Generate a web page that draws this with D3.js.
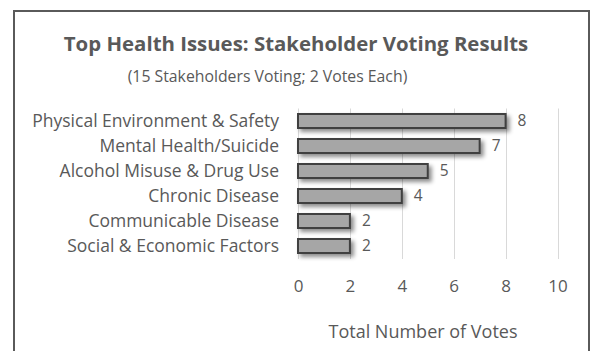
<!DOCTYPE html>
<html>
<head>
<meta charset="utf-8">
<script src="https://cdn.jsdelivr.net/npm/d3@7/dist/d3.min.js"></script>
<style>
  html, body { margin: 0; padding: 0; background: #fff; }
  svg { display: block; font-family: "Open Sans", sans-serif; }
</style>
</head>
<body>
<svg id="chart" width="592" height="351"></svg>
<script>
// Stakeholder votes per health issue
const categories = [
  "Physical Environment & Safety",
  "Mental Health/Suicide",
  "Alcohol Misuse & Drug Use",
  "Chronic Disease",
  "Communicable Disease",
  "Social & Economic Factors"
];
const votes = [8, 7, 5, 4, 2, 2];
const xTicks = [0, 2, 4, 6, 8, 10];

const titleText = "Top Health Issues: Stakeholder Voting Results";
const subtitleText = "(15 Stakeholders Voting; 2 Votes Each)";
const xAxisTitle = "Total Number of Votes";

const svg = d3.select("#chart");
const textColor = "#595959";
const font = "'Open Sans', sans-serif";

// drop shadow for the bars
const defs = svg.append("defs");
const f = defs.append("filter").attr("id", "barShadow")
  .attr("x", "-10%").attr("y", "-30%").attr("width", "130%").attr("height", "190%");
f.append("feDropShadow")
  .attr("dx", 3).attr("dy", 3).attr("stdDeviation", 2)
  .attr("flood-color", "#000").attr("flood-opacity", 0.45);

// outer frame
svg.append("rect")
  .attr("x", 14).attr("y", 11)
  .attr("width", 575).attr("height", 360)
  .attr("fill", "none")
  .attr("stroke", "#5a5a5a")
  .attr("stroke-width", 2);

// titles
svg.append("text")
  .attr("x", 296).attr("y", 51)
  .attr("text-anchor", "middle")
  .attr("font-size", 20.4).attr("font-weight", "bold")
  .attr("fill", textColor)
  .text(titleText);

svg.append("text")
  .attr("x", 267.5).attr("y", 82)
  .attr("text-anchor", "middle")
  .attr("font-size", 15.8)
  .attr("fill", textColor)
  .text(subtitleText);

const x = d3.scaleLinear().domain([0, 10]).range([298, 557.5]);
const y = d3.scaleBand().domain(categories).range([108.5, 258.5]).paddingInner(0.44).paddingOuter(0.22);

// vertical gridlines
svg.append("g")
  .selectAll("line")
  .data(xTicks)
  .join("line")
  .attr("x1", d => Math.round(x(d)) + 0.5)
  .attr("x2", d => Math.round(x(d)) + 0.5)
  .attr("y1", 108.5).attr("y2", 259)
  .attr("stroke", "#d9d9d9")
  .attr("stroke-width", 1);

// x axis labels
const xAxis = d3.axisBottom(x).tickValues(xTicks).tickSize(0).tickPadding(0);
const gx = svg.append("g").attr("transform", "translate(0,280)").call(xAxis);
gx.select(".domain").remove();
gx.selectAll("text")
  .attr("font-family", font)
  .attr("font-size", 17)
  .attr("fill", textColor);

// y axis labels
const yAxis = d3.axisLeft(y).tickSize(0).tickPadding(0);
const gy = svg.append("g").attr("transform", "translate(279,0)").call(yAxis);
gy.select(".domain").remove();
gy.selectAll("text")
  .attr("font-family", font)
  .attr("font-size", 17.5)
  .attr("fill", textColor);

// bars
svg.append("g")
  .selectAll("rect")
  .data(votes)
  .join("rect")
  .attr("x", x(0))
  .attr("y", (d, i) => y(categories[i]))
  .attr("width", d => x(d) - x(0))
  .attr("height", y.bandwidth())
  .attr("fill", "#a6a6a6")
  .attr("stroke", "#3f3f3f")
  .attr("stroke-width", 2)
  .attr("filter", "url(#barShadow)");

// value labels
svg.append("g")
  .selectAll("text")
  .data(votes)
  .join("text")
  .attr("x", d => x(d) + 12)
  .attr("y", (d, i) => y(categories[i]) + y.bandwidth() / 2)
  .attr("dy", "0.35em")
  .attr("font-size", 15.5)
  .attr("fill", textColor)
  .text(d => d);

// x axis title
svg.append("text")
  .attr("x", 423).attr("y", 338)
  .attr("text-anchor", "middle")
  .attr("font-size", 18)
  .attr("fill", textColor)
  .text(xAxisTitle);
</script>
</body>
</html>
